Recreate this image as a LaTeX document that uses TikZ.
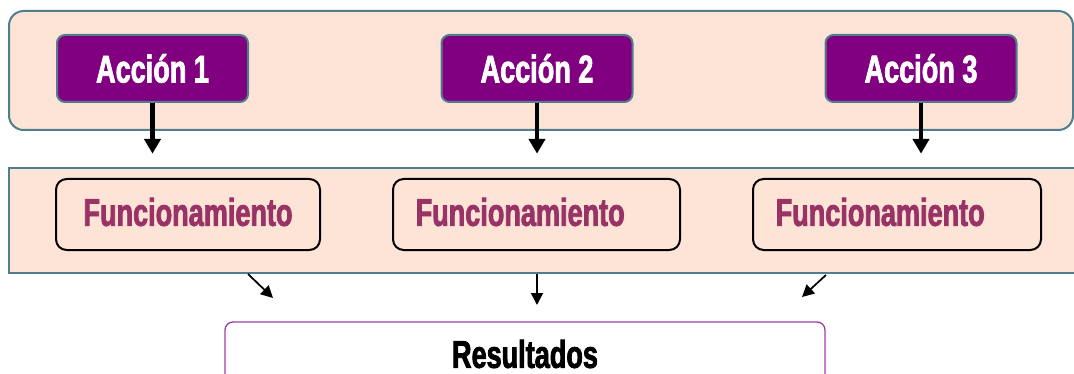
\documentclass[tikz,border=0pt]{standalone}
\usepackage{fontspec}
\usetikzlibrary{arrows.meta}
\newfontfamily\heavyfont{Liberation Sans}[UprightFont=* Bold,FakeStretch=0.70,FakeBold=2]
\definecolor{peach}{RGB}{253,228,214}
\definecolor{steel}{RGB}{80,126,140}
\definecolor{plum}{RGB}{128,0,128}
\definecolor{wine}{RGB}{153,51,102}
\definecolor{orchid}{RGB}{160,60,170}
\tikzset{
  panel/.style={draw=steel,line width=1.5pt,fill=peach,inner sep=0pt},
  accion/.style={draw=steel,line width=1.5pt,fill=plum,rounded corners=6pt,
    minimum width=143.25pt,minimum height=50.25pt,inner sep=0pt,
    text=white,font=\heavyfont\fontsize{29}{30}\selectfont},
  funbox/.style={draw=black,line width=1.5pt,rounded corners=8pt,
    minimum height=53.25pt,inner xsep=17pt,inner ysep=0pt,text depth=4pt,
    text=wine,font=\heavyfont\fontsize{29}{30}\selectfont},
  resbox/.style={draw=orchid,line width=1pt,fill=white,rounded corners=6pt,
    minimum width=450pt,minimum height=48pt,inner sep=0pt,
    font=\heavyfont\fontsize{29}{30}\selectfont},
  bigarrow/.style={line width=3.2pt,-{Triangle[length=11pt,width=12pt]}},
  thinarrow/.style={line width=1.3pt,-{Triangle[length=9pt,width=9pt]}}
}

\begin{document}
\begin{tikzpicture}[x=0.75pt,y=-0.75pt]
  \useasboundingbox (0,0) rectangle (1074,374);
  \clip (0,0) rectangle (1074,374);
  \node[panel,rounded corners=11pt,minimum width=798pt,minimum height=89.25pt]
    (top) at (541,70.5) {};
  \node[panel,minimum width=810.75pt,minimum height=78.75pt]
    (band) at (549.5,220.5) {};

  \node[accion] (acc1) at (152.5,68.5) {Acción 1};
  \node[accion] (acc2) at (537,68.5) {Acción 2};
  \node[accion] (acc3) at (921,68.5) {Acción 3};

  \node[funbox,text width=164pt,align=center] (fun1) at (188,214.5) {Funcionamiento};
  \node[funbox,text width=181.25pt,align=left] (fun2) at (536.5,214.5) {Funcionamiento};
  \node[funbox,text width=182pt,align=left] (fun3) at (897,214.5) {Funcionamiento};

  \node[resbox] (res) at (525,354) {Resultados};

  \draw[bigarrow,shorten >=10pt] (acc1.south) -- (acc1.south |- band.north);
  \draw[bigarrow,shorten >=10pt] (acc2.south) -- (acc2.south |- band.north);
  \draw[bigarrow,shorten >=10pt] (acc3.south) -- (acc3.south |- band.north);

  \coordinate (s1) at (248,274);
  \coordinate (e1) at (273,298);
  \coordinate (s2) at (537,274);
  \coordinate (e2) at (537,305);
  \coordinate (s3) at (826,275);
  \coordinate (e3) at (802,297);
  \draw[thinarrow] (s1) -- (e1);
  \draw[thinarrow] (s2) -- (e2);
  \draw[thinarrow] (s3) -- (e3);
\end{tikzpicture}
\end{document}
